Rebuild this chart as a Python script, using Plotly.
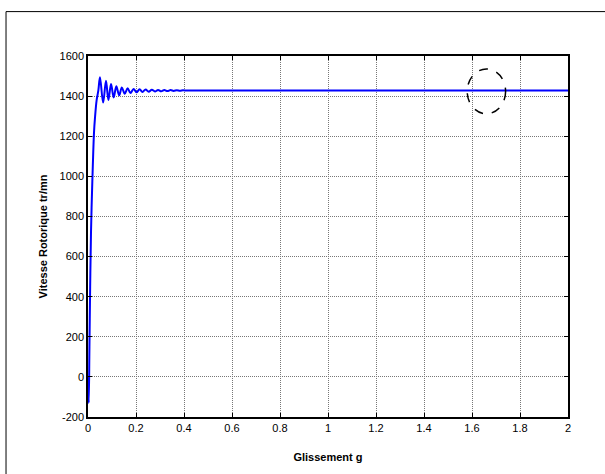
import plotly.graph_objects as go

# Slip (x) and rotor speed (y)
slip = [0, 0.003, 0.006, 0.009, 0.0125, 0.016, 0.02, 0.025, 0.029, 0.036, 0.043, 0.05,
        0.063, 0.075, 0.085, 0.096, 0.107, 0.118, 0.13, 0.141, 0.153, 0.165, 0.177,
        0.19, 0.202, 0.215, 0.227, 0.24, 0.253, 0.266, 0.279, 0.292, 0.305, 0.318,
        0.331, 0.344, 0.357, 0.37, 0.383, 0.396, 0.41, 0.42, 1.0, 2.0]
speed = [0, -130, 150, 450, 720, 890, 1050, 1218, 1290, 1380, 1427, 1494,
         1368, 1477, 1380, 1460, 1393, 1449, 1404, 1443, 1412, 1439, 1416,
         1436, 1419, 1434, 1421, 1433, 1422, 1432, 1423, 1431, 1424, 1430.5,
         1425, 1430, 1426, 1429.5, 1426.5, 1429, 1427.5, 1428, 1428, 1428]

x_ticks = [0, 0.2, 0.4, 0.6, 0.8, 1.0, 1.2, 1.4, 1.6, 1.8, 2.0]
x_labels = ["0", "0.2", "0.4", "0.6", "0.8", "1", "1.2", "1.4", "1.6", "1.8", "2"]
y_ticks = [-200, 0, 200, 400, 600, 800, 1000, 1200, 1400, 1600]
y_labels = ["-200", "0", "200", "400", "600", "800", "1000", "1200", "1400", "1600"]

fig = go.Figure()
fig.add_trace(go.Scatter(x=slip, y=speed, mode="lines",
                         line=dict(color="#0000FF", width=2, shape="spline", smoothing=1.0),
                         showlegend=False))

axis_common = dict(showline=True, linecolor="black", linewidth=1.5, mirror="ticks",
                   ticks="inside", ticklen=4, tickcolor="black",
                   showgrid=True, gridcolor="#777777", griddash="1px,1px", gridwidth=1,
                   zeroline=False,
                   tickfont=dict(family="Arial", size=11, color="black"))

fig.update_xaxes(range=[0, 2], tickvals=x_ticks, ticktext=x_labels,
                 title=dict(text="<b>Glissement g</b>", font=dict(family="Arial", size=11, color="black"),
                            standoff=20),
                 **axis_common)
fig.update_yaxes(range=[-200, 1600], tickvals=y_ticks, ticktext=y_labels,
                 title=dict(text="<b>Vitesse Rotorique tr/mn</b>", font=dict(family="Arial", size=11, color="black"),
                            standoff=10),
                 **axis_common)

# dashed ellipse
fig.add_shape(type="circle", xref="x", yref="y", x0=1.58, x1=1.74, y0=1312, y1=1535,
              line=dict(color="black", width=1.5, dash="dash"))
# outer frame: only its top and left edges fall inside the picture
fig.add_shape(type="line", xref="paper", yref="paper", x0=-0.1708, x1=1.3, y0=1.123, y1=1.123,
              line=dict(color="black", width=1))
fig.add_shape(type="line", xref="paper", yref="paper", x0=-0.1708, x1=-0.1708, y0=-0.4, y1=1.123,
              line=dict(color="black", width=1))

fig.update_layout(width=605, height=474, margin=dict(l=88, r=37, t=56, b=55),
                  paper_bgcolor="white", plot_bgcolor="white")

fig.write_html("out.html", config={"displayModeBar": False},
               post_script="document.body.style.margin='0';document.body.style.overflow='hidden';")
